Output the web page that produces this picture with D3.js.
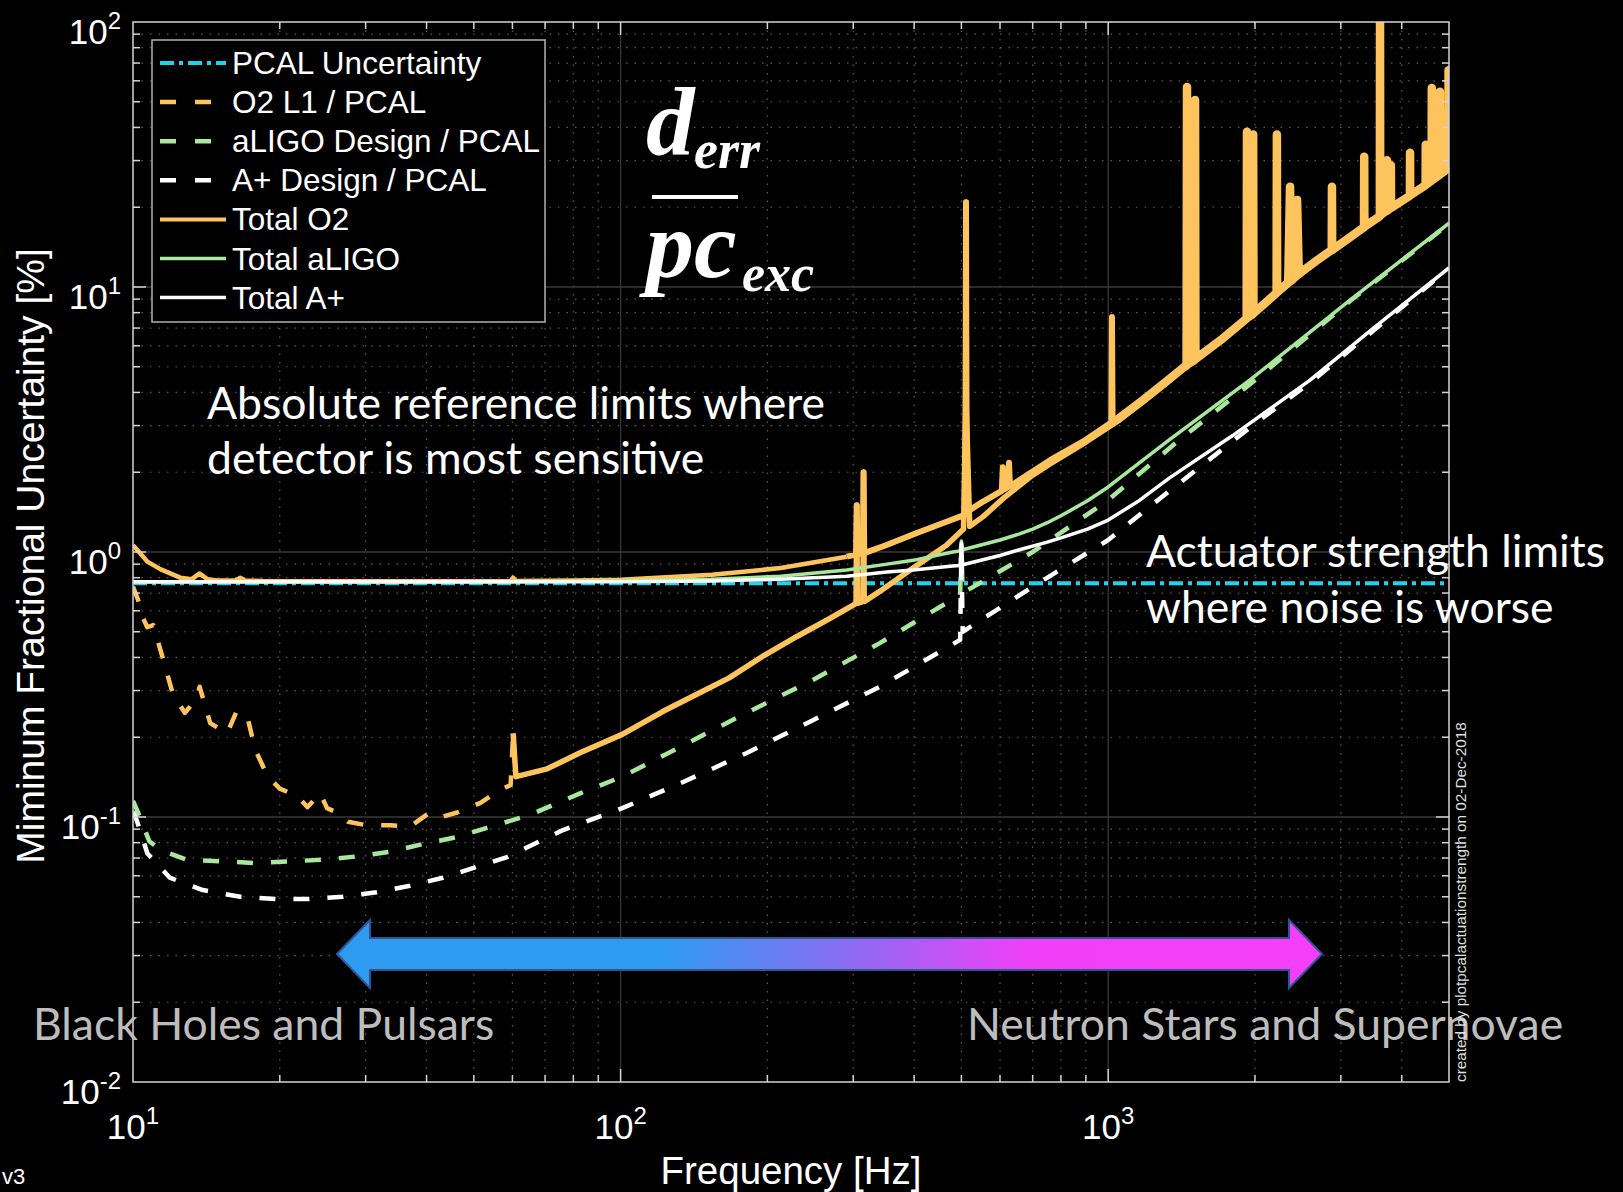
<!DOCTYPE html>
<html lang="en">
<head>
<meta charset="UTF-8">
<title>Actuation strength uncertainty</title>
<script src="https://cdn.jsdelivr.net/npm/d3@7"></script>
<style>
  html, body { margin: 0; padding: 0; background: #000; }
  svg { display: block; }
</style>
</head>
<body>
<script>
// axes
var xDomain = [10, 5000],
    yDomain = [0.01, 100],
    xTicks = [10, 100, 1000],
    yTicks = [0.01, 0.1, 1, 10, 100];

// PCAL uncertainty (flat)
var pcalFreq = [10, 5000],
    pcalUnc = [0.762, 0.762];

// O2 L1 / PCAL (dashed orange)
var o2l1Freq = [10, 10.24, 10.5, 10.7, 11, 11.5, 12.08, 12.78, 13.5, 13.7, 14, 14.4, 15.6, 16.3, 16.6, 17.2, 17.8,
    18.9, 20, 21.7, 22.8, 24.2, 25, 26.2, 27.6, 30.2, 33.7, 37, 40.6, 43, 46.2, 51.6, 56, 59.5, 60.2, 61,
    70.7, 82.8, 100.8, 122, 143, 167, 196, 230, 268, 300, 304, 305, 306, 314, 315, 316, 340, 398, 466, 505,
    510, 511, 512, 520, 554, 611, 700, 760, 900, 1042, 1180, 1296, 1423, 1700, 1954, 2680, 3661, 5000],
    o2l1Val = [0.74, 0.66, 0.56, 0.52, 0.53, 0.40, 0.29, 0.247, 0.28, 0.31, 0.27, 0.226, 0.207, 0.25, 0.24, 0.235, 0.18,
    0.142, 0.128, 0.12, 0.109, 0.123, 0.108, 0.104, 0.096, 0.093, 0.093, 0.092, 0.104, 0.100, 0.104, 0.113, 0.125, 0.132, 0.207, 0.142,
    0.152, 0.175, 0.205, 0.25, 0.29, 0.335, 0.405, 0.48, 0.56, 0.63, 0.64, 1.5, 0.64, 0.65, 2.0, 0.65, 0.71, 0.87, 1.06, 1.22,
    3.4, 20.9, 3.4, 1.25, 1.36, 1.6, 1.95, 2.15, 2.6, 3.1, 3.7, 4.25, 4.9, 6.25, 7.75, 12.55, 18.95, 28.35];

// aLIGO Design / PCAL (dashed green)
var aligoFreq = [10, 10.2, 10.8, 11.4, 12.9, 15.3, 17.9, 21, 24.5, 28.8, 33.7, 39.3, 46.2, 53.2, 65.3, 82.8,
    100.8, 132.6, 181, 248, 340, 431, 489, 497, 500, 503, 700, 1000, 1400, 2000, 3133, 5000],
    aligoVal = [0.115, 0.106, 0.081, 0.075, 0.069, 0.068, 0.067, 0.068, 0.069, 0.071, 0.074, 0.079, 0.084, 0.091, 0.102, 0.123,
    0.142, 0.184, 0.247, 0.329, 0.453, 0.589, 0.676, 0.69, 1.05, 0.70, 1.0, 1.57, 2.65, 4.45, 8.85, 17.3];

// A+ Design / PCAL (dashed white)
var aplusFreq = [10, 10.2, 10.7, 11.9, 13.9, 16.6, 19.7, 22.7, 26.9, 31.6, 37, 43.2, 52.2, 58.5, 76.2,
    100.8, 132.6, 181, 248, 340, 431, 497, 500, 503, 709, 1000, 1400, 2000, 2594, 3500, 5000],
    aplusVal = [0.105, 0.096, 0.073, 0.059, 0.053, 0.050, 0.049, 0.049, 0.050, 0.052, 0.055, 0.059, 0.066, 0.0706, 0.0893,
    0.108, 0.134, 0.174, 0.232, 0.31, 0.40, 0.466, 1.0, 0.50, 0.75, 1.11, 1.82, 3.05, 4.35, 6.85, 11.75];

// Total O2 (solid orange)
var totO2Freq = [10, 10.2, 10.7, 11.4, 12.5, 13.2, 13.7, 14.2, 14.9, 16.2, 16.6, 17, 18.5, 25, 40, 59.5, 60.2, 61,
    80, 100, 154, 213, 291, 304, 305, 306, 314, 315, 316, 350, 405, 466, 508, 510, 511, 512, 514, 554,
    605, 608, 611, 624, 626, 629, 760, 900, 1015, 1018, 1021, 1042, 1180, 1296, 1423, 1448, 1451, 1454, 1504, 1507, 1510,
    1700, 1923, 1926, 1929, 1980, 1983, 1986, 2215, 2218, 2221, 2340, 2360, 2380, 2420, 2440, 2460, 2680,
    2874, 2877, 2880, 3347, 3350, 3353, 3607, 3610, 3613, 3661, 3727, 3730, 3733, 3797, 3800, 3803,
    4157, 4160, 4163, 4477, 4480, 4483, 4607, 4610, 4613, 4787, 4790, 4793, 4897, 4900, 4903, 4987, 4990, 5000],
    totO2Val = [1.06, 1.02, 0.92, 0.86, 0.80, 0.79, 0.83, 0.79, 0.78, 0.78, 0.80, 0.78, 0.777, 0.776, 0.776, 0.778, 0.80, 0.778,
    0.78, 0.785, 0.82, 0.87, 0.96, 0.98, 1.5, 0.98, 0.99, 2.0, 0.99, 1.06, 1.18, 1.30, 1.38, 3.4, 20.9, 3.4, 1.42, 1.55,
    1.70, 2.09, 1.72, 1.76, 2.17, 1.77, 2.22, 2.65, 3.08, 7.7, 3.1, 3.15, 3.75, 4.3, 4.95, 5.05, 56.8, 5.1, 5.3, 50.8, 5.35,
    6.3, 7.6, 38.5, 7.65, 7.9, 37.6, 7.95, 9.5, 37.6, 9.55, 10.4, 23.9, 10.6, 11.0, 21.3, 11.2, 12.6,
    13.8, 23.9, 13.8, 16.8, 31, 16.9, 18.5, 100, 18.6, 19.0, 19.4, 30.1, 19.4, 19.9, 28.8, 19.9,
    22.1, 32.1, 22.2, 24.2, 34.4, 24.3, 25.2, 56.4, 25.3, 26.5, 54.6, 26.6, 27.4, 45.6, 27.5, 28.3, 65.7, 28.4];

// Total aLIGO (solid green)
var totAligoFreq = [10, 60, 100, 154, 213, 291, 352, 398, 480, 497, 500, 503, 600, 658, 700, 750, 800, 907, 1000, 1334, 1954, 3133, 5000],
    totAligoVal = [0.770, 0.772, 0.778, 0.79, 0.81, 0.855, 0.90, 0.93, 1.0, 1.01, 1.10, 1.02, 1.11, 1.17, 1.22, 1.29, 1.37, 1.56, 1.76, 2.65, 4.46, 8.93, 17.4];

// Total A+ (solid white)
var totAplusFreq = [10, 60, 100, 154, 213, 291, 352, 398, 480, 497, 500, 503, 600, 658, 750, 800, 907, 1000, 1150, 1334, 1800, 2594, 3500, 5000],
    totAplusVal = [0.772, 0.772, 0.773, 0.777, 0.79, 0.81, 0.84, 0.855, 0.885, 0.89, 1.08, 0.895, 0.97, 1.02, 1.09, 1.13, 1.22, 1.32, 1.55, 1.90, 2.75, 4.45, 7.0, 11.8];

// band arrow, in data units
var arrowFreq = [26.2, 2745],
    arrowLevel = 0.0304;

var width = 1623,
    height = 1192,
    plot = {left: 133, right: 1449, top: 22, bottom: 1082},
    axisFont = 'Helvetica, Arial, "Liberation Sans", sans-serif',
    noteFont = 'Lato, "Open Sans", sans-serif';

var svg = d3.select('body').append('svg')
    .attr('width', width)
    .attr('height', height)
    .style('background', '#000');

var x = d3.scaleLog().domain(xDomain).range([plot.left, plot.right]);
var y = d3.scaleLog().domain(yDomain).range([plot.bottom, plot.top]);

var defs = svg.append('defs');
defs.append('clipPath').attr('id', 'clip')
  .append('rect')
    .attr('x', plot.left).attr('y', plot.top)
    .attr('width', plot.right - plot.left).attr('height', plot.bottom - plot.top);

// minor tick positions
var minorX = [], minorY = [];
xTicks.forEach(function(d) {
    for (var k = 2; k < 10; k++) if (d * k < xDomain[1]) minorX.push(d * k);
});
yTicks.slice(0, -1).forEach(function(d) {
    for (var k = 2; k < 10; k++) minorY.push(d * k);
});

// grid
var grid = svg.append('g');
grid.selectAll('.mgx').data(minorX).enter().append('line')
    .attr('x1', function(d) { return x(d); }).attr('x2', function(d) { return x(d); })
    .attr('y1', plot.top).attr('y2', plot.bottom)
    .attr('stroke', '#5a5a5a').attr('stroke-width', 1.2).attr('stroke-dasharray', '1.5,7');
grid.selectAll('.mgy').data(minorY).enter().append('line')
    .attr('y1', function(d) { return y(d); }).attr('y2', function(d) { return y(d); })
    .attr('x1', plot.left).attr('x2', plot.right)
    .attr('stroke', '#5a5a5a').attr('stroke-width', 1.2).attr('stroke-dasharray', '1.5,7');
grid.selectAll('.gx').data(xTicks.slice(1)).enter().append('line')
    .attr('x1', function(d) { return x(d); }).attr('x2', function(d) { return x(d); })
    .attr('y1', plot.top).attr('y2', plot.bottom)
    .attr('stroke', '#383838').attr('stroke-width', 1.3);
grid.selectAll('.gy').data(yTicks.slice(1, -1)).enter().append('line')
    .attr('y1', function(d) { return y(d); }).attr('y2', function(d) { return y(d); })
    .attr('x1', plot.left).attr('x2', plot.right)
    .attr('stroke', '#383838').attr('stroke-width', 1.3);

// series
var line = d3.line()
    .x(function(d) { return x(d[0]); })
    .y(function(d) { return y(d[1]); });

var lines = svg.append('g').attr('clip-path', 'url(#clip)')
    .attr('fill', 'none').attr('stroke-linejoin', 'round');

function draw(freq, vals, color, w, dash, keep) {
    var pts = d3.zip(freq, vals).filter(function(d) { return keep ? keep(d[0]) : true; });
    lines.append('path')
        .attr('d', line(pts))
        .attr('stroke', color)
        .attr('stroke-width', w)
        .attr('stroke-dasharray', dash || null);
}

var cOrange = '#fdc35c', cGreen = '#a8e89c', cWhite = '#ffffff', cCyan = '#1dd3f0';

draw(pcalFreq, pcalUnc, cCyan, 4, '14,5,4,5');
draw(o2l1Freq, o2l1Val, cOrange, 4.5, '16,18', function(f) { return f <= 61; });
draw(o2l1Freq, o2l1Val, cOrange, 5.5, null, function(f) { return f >= 60.2; });
draw(aligoFreq, aligoVal, cGreen, 4.5, '16,18');
draw(aplusFreq, aplusVal, cWhite, 4.5, '16,18');
draw(totO2Freq, totO2Val, cOrange, 4.5, null, function(f) { return f <= 291; });
draw(totO2Freq, totO2Val, cOrange, 6, null, function(f) { return f >= 291 && f <= 1042; });
draw(totO2Freq, totO2Val, cOrange, 8.5, null, function(f) { return f >= 1042; });
draw(totAligoFreq, totAligoVal, cGreen, 3.5);
draw(totAplusFreq, totAplusVal, cWhite, 3.5);

// axes box and ticks (inward, all sides)
var ax = svg.append('g').attr('stroke', '#d4d4d4').attr('stroke-width', 1.5);
ax.append('rect')
    .attr('x', plot.left).attr('y', plot.top)
    .attr('width', plot.right - plot.left).attr('height', plot.bottom - plot.top)
    .attr('fill', 'none');
function xTickMarks(vals, len) {
    vals.forEach(function(d) {
        ax.append('line').attr('x1', x(d)).attr('x2', x(d)).attr('y1', plot.bottom).attr('y2', plot.bottom - len);
        ax.append('line').attr('x1', x(d)).attr('x2', x(d)).attr('y1', plot.top).attr('y2', plot.top + len);
    });
}
function yTickMarks(vals, len) {
    vals.forEach(function(d) {
        ax.append('line').attr('y1', y(d)).attr('y2', y(d)).attr('x1', plot.left).attr('x2', plot.left + len);
        ax.append('line').attr('y1', y(d)).attr('y2', y(d)).attr('x1', plot.right).attr('x2', plot.right - len);
    });
}
xTickMarks(xTicks.slice(1), 13);
xTickMarks(minorX, 7);
yTickMarks(yTicks.slice(1, -1), 13);
yTickMarks(minorY, 7);

// tick labels 10^n
function expLabel(g, v) {
    var e = Math.round(Math.log10(v));
    g.append('tspan').text('10');
    g.append('tspan').attr('dy', -15).attr('font-size', 24).text(e);
}
svg.selectAll('.ylab').data(yTicks).enter().append('text')
    .attr('x', 121).attr('y', function(d) { return y(d) + 22; })
    .attr('text-anchor', 'end').attr('fill', '#fff')
    .attr('font-family', axisFont).attr('font-size', 35)
    .each(function(d) { expLabel(d3.select(this), d); });
svg.selectAll('.xlab').data(xTicks).enter().append('text')
    .attr('x', function(d) { return x(d); }).attr('y', 1139)
    .attr('text-anchor', 'middle').attr('fill', '#fff')
    .attr('font-family', axisFont).attr('font-size', 35)
    .each(function(d) { expLabel(d3.select(this), d); });

svg.append('text')
    .attr('x', (plot.left + plot.right) / 2).attr('y', 1184)
    .attr('text-anchor', 'middle').attr('fill', '#fff')
    .attr('font-family', axisFont).attr('font-size', 38.5)
    .text('Frequency [Hz]');
svg.append('text')
    .attr('transform', 'translate(44,' + ((plot.top + plot.bottom) / 2 + 4) + ') rotate(-90)')
    .attr('text-anchor', 'middle').attr('fill', '#fff')
    .attr('font-family', axisFont).attr('font-size', 39)
    .text('Miminum Fractional Uncertainty [%]');

// legend
var legendItems = [
    {label: 'PCAL Uncertainty', color: cCyan, dash: '14,5,4,5', w: 4},
    {label: 'O2 L1 / PCAL', color: cOrange, dash: '16,19', w: 4.5},
    {label: 'aLIGO Design / PCAL', color: cGreen, dash: '16,19', w: 4.5},
    {label: 'A+ Design / PCAL', color: cWhite, dash: '16,19', w: 4.5},
    {label: 'Total O2', color: cOrange, dash: null, w: 4},
    {label: 'Total aLIGO', color: cGreen, dash: null, w: 3.5},
    {label: 'Total A+', color: cWhite, dash: null, w: 3.5}
];
var legend = svg.append('g');
legend.append('rect')
    .attr('x', 152).attr('y', 40).attr('width', 393).attr('height', 282)
    .attr('fill', '#000').attr('stroke', '#b0b0b0').attr('stroke-width', 1.5);
var li = legend.selectAll('.li').data(legendItems).enter().append('g')
    .attr('transform', function(d, i) { return 'translate(0,' + (63 + i * 39.1) + ')'; });
li.append('line')
    .attr('x1', 160).attr('x2', 226).attr('y1', 0).attr('y2', 0)
    .attr('stroke', function(d) { return d.color; })
    .attr('stroke-width', function(d) { return d.w; })
    .attr('stroke-dasharray', function(d) { return d.dash; });
li.append('text')
    .attr('x', 232).attr('y', 11)
    .attr('fill', '#fff').attr('font-family', axisFont).attr('font-size', 31.5)
    .text(function(d) { return d.label; });

// d_err / pc_exc
var frac = svg.append('g').attr('fill', '#fff')
    .attr('font-family', '"Liberation Serif", "Times New Roman", serif')
    .attr('font-weight', 'bold').attr('font-style', 'italic');
frac.append('text').attr('x', 646).attr('y', 155).attr('font-size', 97).text('d');
frac.append('text').attr('x', 694).attr('y', 168).attr('font-size', 54).text('err');
frac.append('line').attr('x1', 652).attr('x2', 738).attr('y1', 197).attr('y2', 197)
    .attr('stroke', '#fff').attr('stroke-width', 4);
frac.append('text').attr('x', 646).attr('y', 277).attr('font-size', 96).text('pc');
frac.append('text').attr('x', 742).attr('y', 291).attr('font-size', 52).text('exc');

// arrow
var grad = defs.append('linearGradient').attr('id', 'arrowGrad')
    .attr('gradientUnits', 'userSpaceOnUse')
    .attr('x1', x(arrowFreq[0])).attr('x2', x(arrowFreq[1])).attr('y1', 0).attr('y2', 0);
[[0, '#2e9bf0'], [0.33, '#2e9bf0'], [0.52, '#8c6cf2'], [0.7, '#f03ff8'], [1, '#f53ef8']].forEach(function(s) {
    grad.append('stop').attr('offset', s[0]).attr('stop-color', s[1]);
});
var xl = x(arrowFreq[0]), xr = x(arrowFreq[1]), yc = y(arrowLevel),
    hl = 33, hh = 34, sh = 16;
svg.append('path')
    .attr('d', 'M' + xl + ',' + yc +
        'L' + (xl + hl) + ',' + (yc - hh) + 'L' + (xl + hl) + ',' + (yc - sh) +
        'L' + (xr - hl) + ',' + (yc - sh) + 'L' + (xr - hl) + ',' + (yc - hh) +
        'L' + xr + ',' + yc +
        'L' + (xr - hl) + ',' + (yc + hh) + 'L' + (xr - hl) + ',' + (yc + sh) +
        'L' + (xl + hl) + ',' + (yc + sh) + 'L' + (xl + hl) + ',' + (yc + hh) + 'Z')
    .attr('fill', 'url(#arrowGrad)')
    .attr('stroke', '#2f5597').attr('stroke-width', 2);

// notes
var notes = [
    {t: 'Absolute reference limits where', x: 207, y: 419, c: '#fff'},
    {t: 'detector is most sensitive', x: 207, y: 474, c: '#fff'},
    {t: 'Actuator strength limits', x: 1146, y: 567, c: '#fff'},
    {t: 'where noise is worse', x: 1146, y: 623, c: '#fff'},
    {t: 'Black Holes and Pulsars', x: 33, y: 1040, c: '#bdbdbd'},
    {t: 'Neutron Stars and Supernovae', x: 967, y: 1040, c: '#bdbdbd'}
];
svg.selectAll('.note').data(notes).enter().append('text')
    .attr('x', function(d) { return d.x; })
    .attr('y', function(d) { return d.y; })
    .attr('fill', function(d) { return d.c; })
    .attr('font-family', noteFont).attr('font-size', 44.5)
    .text(function(d) { return d.t; });

svg.append('text')
    .attr('transform', 'translate(1466,1082) rotate(-90)')
    .attr('fill', '#e0e0e0').attr('font-family', axisFont).attr('font-size', 15.3)
    .text('created by plotpcalactuationstrength on 02-Dec-2018');

svg.append('text')
    .attr('x', 2).attr('y', 1184)
    .attr('fill', '#fff').attr('font-family', axisFont).attr('font-size', 22)
    .text('v3');
</script>
</body>
</html>
